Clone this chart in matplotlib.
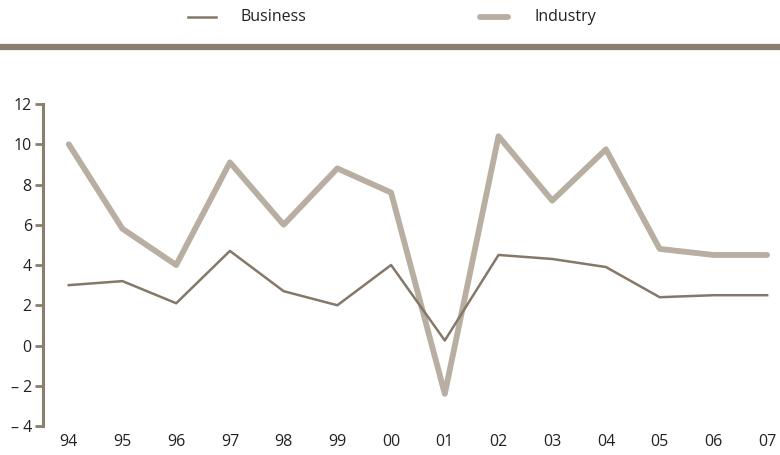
import matplotlib
matplotlib.use('Agg')
import matplotlib.pyplot as plt
from matplotlib.lines import Line2D
import numpy as np

years=['94','95','96','97','98','99','00','01','02','03','04','05','06','07']
business=[3.0,3.2,2.1,4.7,2.7,2.0,4.0,0.25,4.5,4.3,3.9,2.4,2.5,2.5]
industry=[10.0,5.8,4.0,9.1,6.0,8.8,7.6,-2.4,10.4,7.2,9.75,4.8,4.5,4.5]
yticks=[-4,-2,0,2,4,6,8,10,12]
ylabels=['\u2013 4','\u2013 2','0','2','4','6','8','10','12']

c_bus='#857868'
c_ind='#b8aea2'
c_axis='#8a7e6e'

plt.rcParams['font.family']=['Open Sans','DejaVu Sans']

fig=plt.figure(figsize=(7.8,4.55),dpi=100)
ax=fig.add_axes([0.0551,0.0637,0.9449,0.7077])

x=np.arange(len(years))
ax.plot(x,industry,color=c_ind,lw=4.2,solid_joinstyle='round',solid_capstyle='round',label='Industry')
ax.plot(x,business,color=c_bus,lw=1.8,label='Business')

ax.set_xlim(-0.48,13.24)
ax.set_ylim(-4,12)
ax.set_yticks(yticks)
ax.set_yticklabels(ylabels,fontsize=11.5,color='#222222')
ax.set_xticks(x)
ax.set_xticklabels(years,fontsize=11.5,color='#222222')
ax.tick_params(axis='x',length=0,pad=6)
ax.tick_params(axis='y',length=6,width=2,color=c_axis,pad=2)
for s in ['top','right','bottom']:
    ax.spines[s].set_visible(False)
ax.spines['left'].set_color(c_axis)
ax.spines['left'].set_linewidth(2.2)

#legend drawn by hand at top
ly=1-17/455
fig.add_artist(Line2D([188/780,216/780],[ly,ly],color=c_bus,lw=1.8))
fig.text(240/780,ly,'Business',fontsize=11.5,va='center',ha='left',color='#222222')
fig.add_artist(Line2D([480/780,508/780],[ly,ly],color=c_ind,lw=4.2,solid_capstyle='round'))
fig.text(534/780,ly,'Industry',fontsize=11.5,va='center',ha='left',color='#222222')

#band under legend
fig.add_artist(Line2D([0,1],[1-47/455,1-47/455],color=c_axis,lw=4.5))

fig.savefig('out.png',dpi=100)
